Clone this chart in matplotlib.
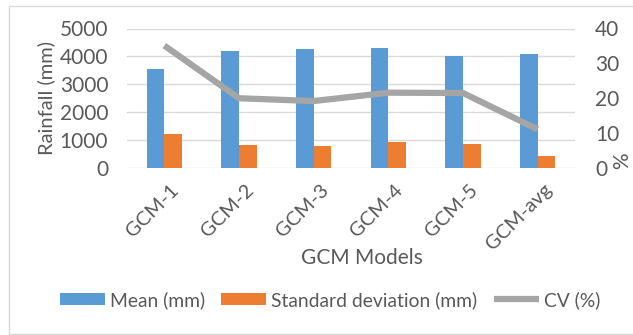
import matplotlib
matplotlib.use("Agg")
import matplotlib.pyplot as plt
import matplotlib.transforms as mtrans
import numpy as np
from matplotlib.patches import Rectangle

plt.rcParams['font.family'] = ['Lato', 'DejaVu Sans']

categories = ["GCM-1", "GCM-2", "GCM-3", "GCM-4", "GCM-5", "GCM-avg"]
mean_mm = [3560, 4200, 4265, 4300, 4015, 4075]
sd_mm = [1220, 825, 805, 930, 850, 440]
cv_pct = [35.1, 20.0, 19.2, 21.6, 21.5, 11.1]
left_ticks = [0, 1000, 2000, 3000, 4000, 5000]
right_ticks = [0, 10, 20, 30, 40]

TXT = "#595959"
BLUE = "#5B9BD5"
ORANGE = "#ED7D31"
GRAY = "#A5A5A5"
GRID = "#D9D9D9"

W, H = 633, 335
fig = plt.figure(figsize=(W / 100, H / 100), dpi=100)
# chart area border
fig.patches.append(Rectangle((8.5 / W, 1.5 / H), (W - 8) / W, (H - 7) / H,
                             transform=fig.transFigure, fill=False, edgecolor="#D9D9D9", lw=1))

x0, x1 = 127, 575
ytop, ybot = 28.5, 168
ax = fig.add_axes([x0 / W, 1 - ybot / H, (x1 - x0) / W, (ybot - ytop) / H])
x = np.arange(len(categories))
bw = 0.236
ax.bar(x - bw / 2, mean_mm, bw, color=BLUE, label="Mean (mm)", zorder=2)
ax.bar(x + bw / 2, sd_mm, bw, color=ORANGE, label="Standard deviation (mm)", zorder=2)
ax.set_xlim(-0.5, len(categories) - 0.5)
ax.set_ylim(0, 5000)
ax.set_yticks(left_ticks)
ax.set_yticklabels([str(v) for v in left_ticks])
for v in left_ticks:
    ax.axhline(v, color=GRID, lw=1, zorder=0)
for s in ax.spines.values():
    s.set_visible(False)
ax.tick_params(axis="both", length=0, colors=TXT, labelsize=15)
ax.tick_params(axis="y", pad=13.5)
ax.set_xticks(x)
ax.set_xticklabels(categories, rotation=45, ha="right", rotation_mode="anchor", fontsize=14.5)
ax.tick_params(axis="x", pad=9.5)
for lab in ax.get_xticklabels():
    lab.set_transform(lab.get_transform() + mtrans.ScaledTranslation(0.06, 0, fig.dpi_scale_trans))
ax.set_ylabel("Rainfall (mm)", color=TXT, fontsize=14.5, va="center")
ax.yaxis.set_label_coords((46 - x0) / (x1 - x0), 0.5)
ax.set_xlabel("GCM Models", color=TXT, fontsize=15)
ax.xaxis.set_label_coords((362 - x0) / (x1 - x0), -(258 - ybot) / (ybot - ytop))
ax.xaxis.label.set_va("center")

ax2 = ax.twinx()
ax2.plot(x, cv_pct, color=GRAY, lw=4.5, solid_capstyle="butt", label="CV (%)", zorder=3)
ax2.set_ylim(0, 40)
ax2.set_yticks(right_ticks)
ax2.set_yticklabels([str(v) for v in right_ticks])
for s in ax2.spines.values():
    s.set_visible(False)
ax2.tick_params(axis="y", length=0, colors=TXT, labelsize=15, pad=14.4)
fig.text(622 / W, 1 - 161 / H, "%", rotation=90, color=TXT, fontsize=15, ha="center", va="center")

h1, l1 = ax.get_legend_handles_labels()
h2, l2 = ax2.get_legend_handles_labels()
leg = fig.legend(h1 + h2, l1 + l2, loc="center", bbox_to_anchor=(330 / W, 1 - 300 / H), ncol=3,
                 frameon=False, fontsize=13.9, handlelength=2.33, handleheight=0.62,
                 handletextpad=0.26, columnspacing=0.85, labelcolor=TXT,
                 borderpad=0, borderaxespad=0)

fig.savefig("out.png", dpi=100)
